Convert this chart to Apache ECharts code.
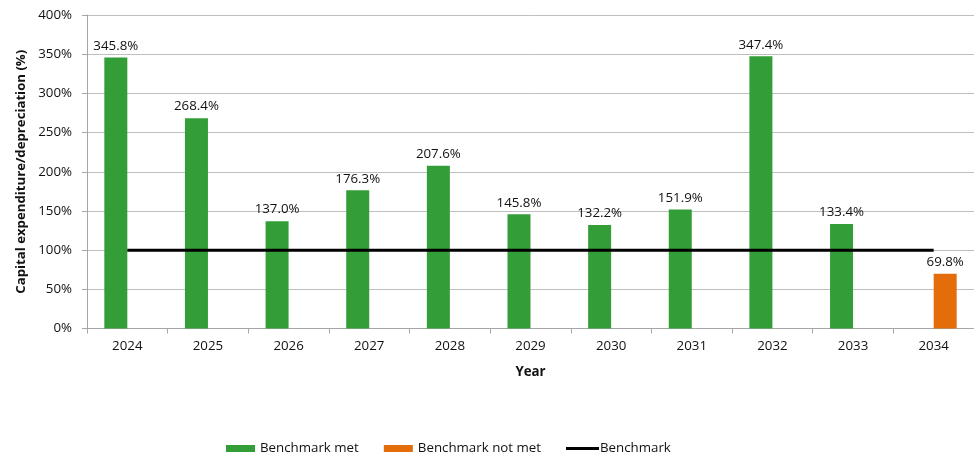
<!DOCTYPE html>
<html><head><meta charset="utf-8">
<script src="https://cdn.jsdelivr.net/npm/echarts@6/dist/echarts.min.js"></script>
<style>html,body{margin:0;padding:0;background:#fff}#c{width:974px;height:456px}</style>
</head><body><div id="c"></div>
<script>
var years = ['2024','2025','2026','2027','2028','2029','2030','2031','2032','2033','2034'];
var benchmarkMet = [345.8, 268.4, 137.0, 176.3, 207.6, 145.8, 132.2, 151.9, 347.4, 133.4, null];
var benchmarkNotMet = [null, null, null, null, null, null, null, null, null, null, 69.8];
var benchmark = [100, 100, 100, 100, 100, 100, 100, 100, 100, 100, 100];
var yTicks = [0, 50, 100, 150, 200, 250, 300, 350, 400];

var FONT = 'Open Sans';
var FS = 13.3;
var TXT = '#111';
var chart = echarts.init(document.getElementById('c'), null, {renderer: 'canvas'});
var lbl = {show: true, position: 'top', distance: 5, fontFamily: FONT, fontSize: FS, color: TXT,
  formatter: function (p) { return p.value == null ? '' : p.value.toFixed(1) + '%'; }};
chart.setOption({
  animation: false,
  textStyle: {fontFamily: FONT},
  grid: {left: 87, right: -2, top: 15, bottom: 127.5, containLabel: false},
  legend: [{
    left: 221, top: 437, itemWidth: 29, itemHeight: 7, itemGap: 25,
    textStyle: {fontFamily: FONT, fontSize: FS, color: TXT},
    data: [
      {name: 'Benchmark met', icon: 'rect'},
      {name: 'Benchmark not met', icon: 'rect'}
    ]
  }, {
    left: 561, top: 437, itemWidth: 33, itemHeight: 3,
    textStyle: {fontFamily: FONT, fontSize: FS, color: TXT, padding: [0, 0, 0, -4]},
    data: [{name: 'Benchmark', icon: 'rect'}]
  }],
  xAxis: {
    type: 'category', data: years, boundaryGap: true,
    name: 'Year', nameLocation: 'middle', nameGap: 37,
    nameTextStyle: {fontFamily: FONT, fontSize: FS, fontWeight: 'bold', color: TXT},
    axisLine: {lineStyle: {color: '#a6a6a6', width: 1}},
    axisTick: {show: true, length: 5, lineStyle: {color: '#a6a6a6'}},
    axisLabel: {margin: 11, fontFamily: FONT, fontSize: FS, color: TXT}
  },
  yAxis: {
    type: 'value', min: yTicks[0], max: yTicks[yTicks.length - 1], interval: 50,
    name: 'Capital expenditure/depreciation (%)', nameLocation: 'middle', nameGap: 57,
    nameTruncate: {maxWidth: 600},
    nameTextStyle: {fontFamily: FONT, fontSize: 13.2, fontWeight: 'bold', color: TXT,
      width: 600, overflow: 'none', align: 'center'},
    axisLine: {show: true, lineStyle: {color: '#a6a6a6', width: 1}},
    axisTick: {show: true, length: 5, lineStyle: {color: '#a6a6a6'}},
    splitLine: {show: true, lineStyle: {color: '#bfbfbf', width: 1}},
    axisLabel: {margin: 15, fontFamily: FONT, fontSize: FS, color: TXT,
      formatter: function (v) { return v + '%'; }}
  },
  series: [
    {name: 'Benchmark met', type: 'bar', data: benchmarkMet, barWidth: 23, barGap: '0%',
      itemStyle: {color: '#339e38'}, label: lbl},
    {name: 'Benchmark not met', type: 'bar', data: benchmarkNotMet, barWidth: 23, barGap: '0%',
      itemStyle: {color: '#e46c0a'}, label: lbl},
    {name: 'Benchmark', type: 'line', data: benchmark, symbol: 'none', showSymbol: false,
      lineStyle: {color: '#000', width: 3}, itemStyle: {color: '#000'}, z: 5}
  ]
});
</script></body></html>
